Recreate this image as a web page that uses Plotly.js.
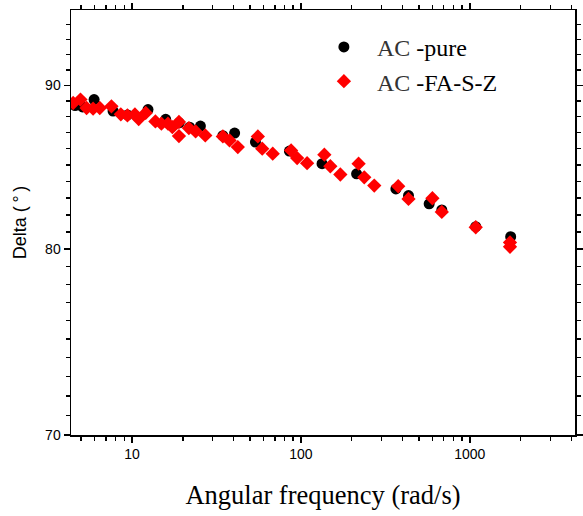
<!DOCTYPE html>
<html>
<head>
<meta charset="utf-8">
<script src="https://cdn.plot.ly/plotly-3.0.1.min.js"></script>
<style>html,body{margin:0;padding:0;background:#fff;}#chart{width:583px;height:516px;}</style>
</head>
<body>
<div id="chart"></div>
<script>
// AC-pure (black circles)
const pureX = [4.6, 5.09, 5.96, 7.72, 9.4, 12.43, 15.82, 19.0, 21.93, 25.4, 34.5, 40.5, 53.8, 85.5, 133.4, 213.7, 365.3, 433.7, 574.8, 683, 1085, 1747];
const pureY = [88.7, 88.61, 89.08, 88.35, 88.1, 88.44, 87.82, 87.6, 87.33, 87.40, 86.8, 86.96, 86.40, 85.84, 85.07, 84.45, 83.54, 83.14, 82.65, 82.29, 81.3, 80.72];
// AC-FA-S-Z (red diamonds)
const fasX = [4.48, 4.95, 5.38, 5.88, 6.44, 7.55, 8.58, 9.39, 10.4, 10.95, 12.05, 13.75, 14.92, 16.32, 17.33, 18.96, 18.96, 21.7, 23.8, 27.15, 34.5, 37.8, 42.3, 55.6, 59.0, 68.1, 87.5, 95, 108.8, 137.7, 149.4, 171.2, 219.6, 237.3, 271.9, 376.9, 433.7, 601, 683, 1085, 1731, 1731];
const fasY = [88.86, 89.08, 88.54, 88.50, 88.54, 88.65, 88.14, 88.07, 88.13, 87.84, 88.23, 87.69, 87.55, 87.55, 87.33, 87.66, 86.77, 87.27, 87.06, 86.81, 86.75, 86.50, 86.09, 86.75, 85.99, 85.68, 85.88, 85.41, 85.10, 85.62, 84.91, 84.41, 85.07, 84.24, 83.74, 83.70, 82.94, 82.98, 82.17, 81.27, 80.39, 80.14];
const seriesNames = ['<span style="color:#333">AC</span> -pure', '<span style="color:#333">AC</span> -FA-S-Z'];
const xTickVals = [10, 100, 1000];
const xTickText = ['10', '100', '1000'];
const xMinor = [5, 6, 7, 8, 9, 20, 30, 40, 50, 60, 70, 80, 90, 200, 300, 400, 500, 600, 700, 800, 900, 2000, 3000, 4000];
const yTickVals = [70, 80, 90];
const yTickText = ['70', '80', '90'];
const yMinor = [71, 72, 73, 74, 75, 76, 77, 78, 79, 81, 82, 83, 84, 85, 86, 87, 88, 89, 91, 92, 93, 94];

const traces = [
  {x: pureX, y: pureY, name: seriesNames[0], type: 'scatter', mode: 'markers',
   marker: {symbol: 'circle', size: 11, color: '#000000'}},
  {x: fasX, y: fasY, name: seriesNames[1], type: 'scatter', mode: 'markers',
   marker: {symbol: 'diamond', size: 11, color: '#ff0000'}}
];

const axisCommon = {
  showline: true, linecolor: '#000', linewidth: 1.5, mirror: 'allticks',
  ticks: 'outside', ticklen: 6, tickwidth: 1.5, tickcolor: '#000',
  showgrid: false, zeroline: false,
  tickfont: {family: 'Liberation Sans, Arial, sans-serif', size: 14, color: '#000'}
};

const layout = {
  width: 583, height: 516,
  margin: {l: 71, r: 8, t: 10, b: 81},
  paper_bgcolor: '#fff', plot_bgcolor: '#fff',
  showlegend: true,
  legend: {x: 0.476, y: 0.965, xanchor: 'left', yanchor: 'top', bgcolor: 'rgba(0,0,0,0)',
           font: {family: 'Liberation Serif, Times New Roman, serif', size: 24, color: '#000'},
           itemwidth: 56, tracegroupgap: 0},
  xaxis: Object.assign({}, axisCommon, {
    type: 'log', range: [Math.log10(4.35), Math.log10(4200)],
    tickmode: 'array', tickvals: xTickVals, ticktext: xTickText,
    minor: {tickmode: 'array', tickvals: xMinor, ticks: 'outside', ticklen: 4, tickwidth: 1.5, tickcolor: '#000'},
    title: {text: 'Angular frequency (rad/s)', standoff: 24,
            font: {family: 'Liberation Serif, Times New Roman, serif', size: 26.5, color: '#000'}}
  }),
  yaxis: Object.assign({}, axisCommon, {
    type: 'log', range: [Math.log10(70), Math.log10(95)],
    tickmode: 'array', tickvals: yTickVals, ticktext: yTickText,
    minor: {tickmode: 'array', tickvals: yMinor, ticks: 'outside', ticklen: 4, tickwidth: 1.5, tickcolor: '#000'},
    title: {text: 'Delta (\u2009°\u2009)', standoff: 14,
            font: {family: 'Liberation Sans, Arial, sans-serif', size: 18, color: '#000'}}
  })
};

Plotly.newPlot('chart', traces, layout, {displayModeBar: false, staticPlot: true});
</script>
</body>
</html>
